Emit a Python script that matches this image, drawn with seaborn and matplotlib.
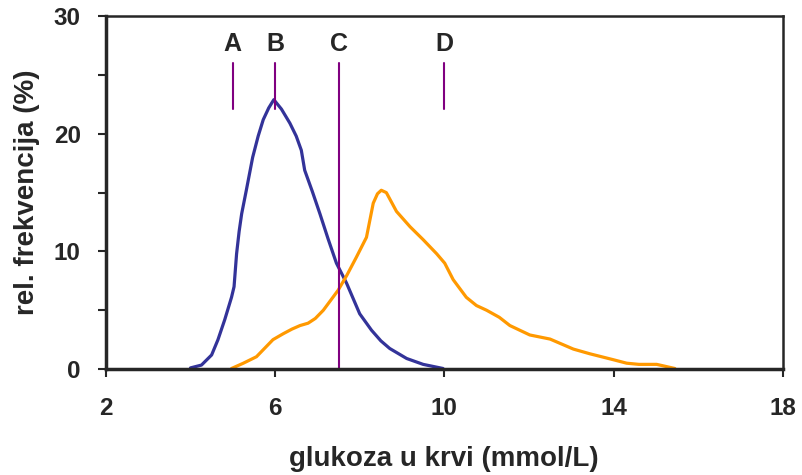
import matplotlib
matplotlib.use("Agg")
import matplotlib.pyplot as plt
import seaborn as sns
import pandas as pd
from matplotlib.ticker import MultipleLocator

# plava krivulja (zdravi)
plava_x = [4.0, 4.26, 4.5, 4.65, 4.81, 4.97, 5.03, 5.09, 5.15, 5.21, 5.32, 5.47, 5.6, 5.72,
           5.85, 5.97, 6.15, 6.35, 6.5, 6.62, 6.7, 6.88, 7.06, 7.25, 7.45, 7.69, 8.0,
           8.28, 8.5, 8.71, 9.11, 9.5, 9.97]
plava_y = [0.1, 0.34, 1.2, 2.5, 4.2, 6.1, 7.0, 9.8, 11.7, 13.2, 15.2, 18.0, 19.8, 21.2,
           22.2, 22.9, 22.1, 20.9, 19.8, 18.6, 16.9, 15.1, 13.2, 11.1, 9.0, 7.3, 4.7,
           3.3, 2.4, 1.75, 0.9, 0.4, 0.05]
# narančasta krivulja (dijabetičari)
nar_x = [4.97, 5.25, 5.56, 5.95, 6.19, 6.4, 6.59, 6.78, 6.95, 7.14, 7.49, 7.7, 7.92, 8.16,
         8.32, 8.42, 8.51, 8.63, 8.87, 9.19, 9.5, 9.82, 10.01, 10.21, 10.52, 10.76,
         11.0, 11.3, 11.55, 12.02, 12.5, 13.05, 13.44, 13.99, 14.31, 14.6, 15.02, 15.45]
nar_y = [0.05, 0.5, 1.05, 2.5, 3.0, 3.4, 3.7, 3.9, 4.3, 5.0, 6.7, 8.0, 9.5, 11.2,
         14.1, 14.9, 15.2, 15.0, 13.4, 12.1, 11.0, 9.8, 9.0, 7.6, 6.1, 5.4,
         5.0, 4.4, 3.7, 2.9, 2.55, 1.7, 1.3, 0.8, 0.5, 0.4, 0.4, 0.05]
# granice
oznake = ["A", "B", "C", "D"]
granice = [5.0, 6.0, 7.5, 10.0]

sns.set_style("ticks")
plt.rcParams["font.family"] = ["Liberation Sans", "DejaVu Sans"]

df1 = pd.DataFrame({"x": plava_x, "y": plava_y})
df2 = pd.DataFrame({"x": nar_x, "y": nar_y})

fig = plt.figure(figsize=(8.02, 4.75), dpi=100)
ax = fig.add_axes([0.132, 0.223, 0.844, 0.743])

sns.lineplot(data=df1, x="x", y="y", color="#333399", lw=2.3, ax=ax, sort=False)
sns.lineplot(data=df2, x="x", y="y", color="#FF9900", lw=2.3, ax=ax, sort=False)

for o, g in zip(oznake, granice):
    if o == "C":
        ax.plot([g, g], [0, 26], color="#800080", lw=1.5)
    else:
        ax.plot([g, g], [22.1, 26], color="#800080", lw=1.5)
    ax.text(g, 27.6, o, ha="center", va="center", fontsize=18, fontweight="bold")

ax.set_xlim(2, 18)
ax.set_ylim(0, 30)
ax.set_xticks([2, 6, 10, 14, 18])
ax.set_yticks([0, 10, 20, 30])
ax.yaxis.set_minor_locator(MultipleLocator(5))
ax.tick_params(axis="both", which="both", direction="out", length=6, width=1.5,
               labelsize=17.5)
ax.tick_params(axis="x", pad=14)
ax.tick_params(axis="y", pad=12)
for lab in ax.get_xticklabels() + ax.get_yticklabels():
    lab.set_fontweight("bold")

for s in ["left", "bottom"]:
    ax.spines[s].set_linewidth(2.5)
for s in ["top", "right"]:
    ax.spines[s].set_linewidth(1.8)
    ax.spines[s].set_visible(True)

ax.set_xlabel("glukoza u krvi (mmol/L)", fontsize=20, fontweight="bold", labelpad=19)
ax.set_ylabel("rel. frekvencija (%)", fontsize=20, fontweight="bold", labelpad=10)

fig.savefig("out.png", dpi=100)
